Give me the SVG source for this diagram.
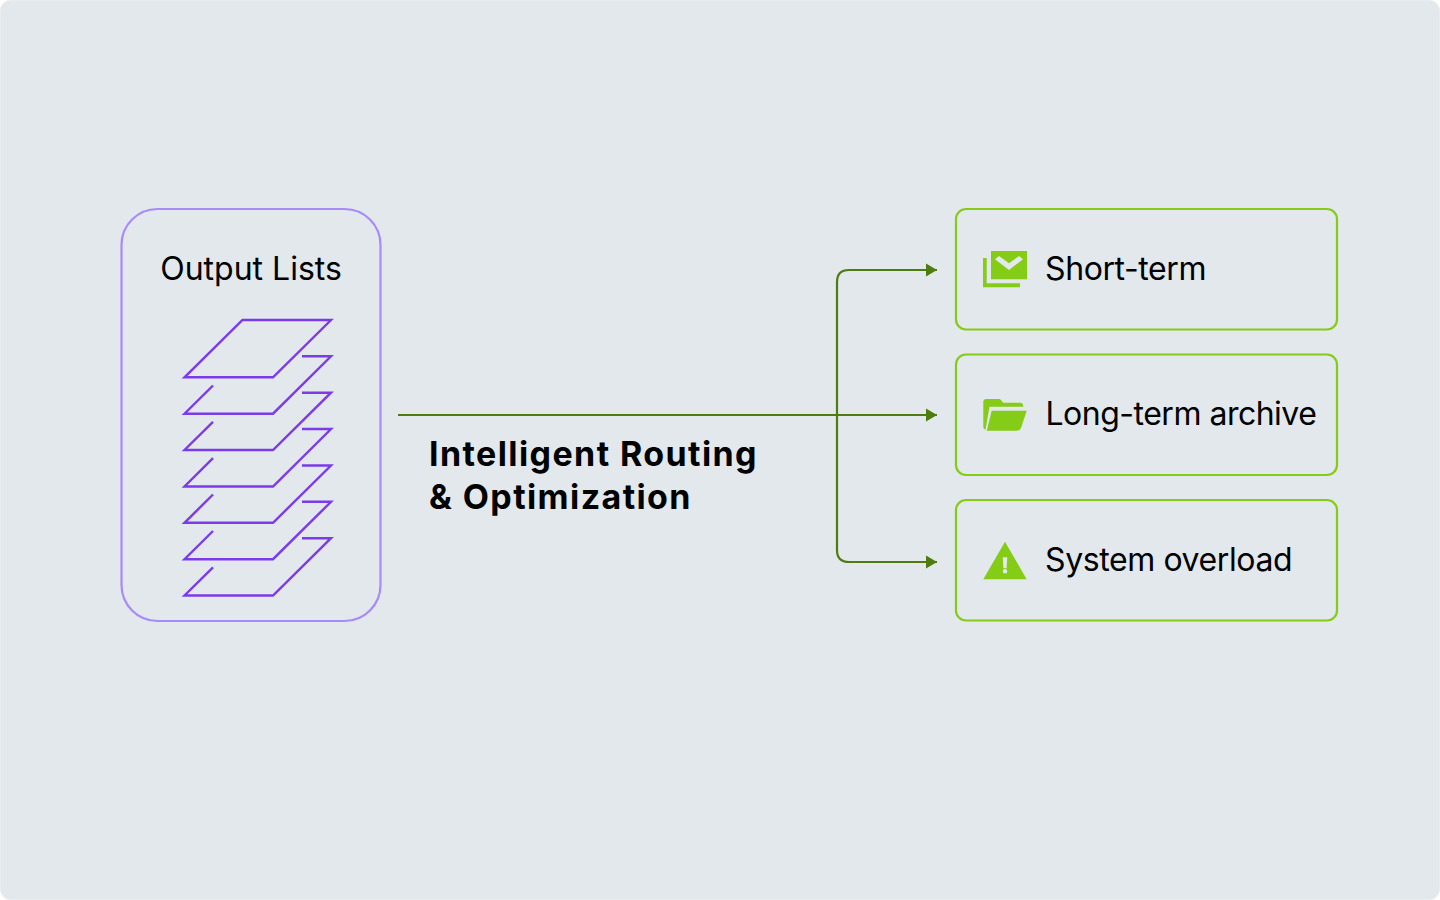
<svg xmlns="http://www.w3.org/2000/svg" width="1440" height="900" viewBox="0 0 1440 900">
<style>
.t{font-family:"Inter","Liberation Sans",sans-serif;font-size:32px;fill:#000}
.n{letter-spacing:-0.4px}
.m{letter-spacing:-0.5px}
.b{font-family:"Inter","Liberation Sans",sans-serif;font-size:34px;font-weight:700;fill:#000;letter-spacing:1.4px}
.box{fill:none;stroke:#84cc16;stroke-width:2.2}
.ly{fill:none;stroke:#7c3aed;stroke-width:2.4}
.c{fill:none;stroke:#4d7c0f;stroke-width:2.2}
.i{fill:#84cc16}
</style>
<defs><marker id="a" markerUnits="userSpaceOnUse" markerWidth="12" markerHeight="14" refX="11" refY="7" orient="auto"><path d="M0 0.500L11 7L0 13.500Z" fill="#4d7c0f"/></marker></defs>
<rect x="0.500" y="0.500" width="1439" height="899" rx="10" fill="#e2e8eb" stroke="#e8edef"/>
<g id="connectors">
<path class="c" d="M398 415H937" marker-end="url(#a)"/>
<path class="c" d="M837 415V282Q837 270 849 270H937" marker-end="url(#a)"/>
<path class="c" d="M837 415V550Q837 562 849 562H937" marker-end="url(#a)"/>
</g>
<g id="output-lists">
<rect x="121.500" y="209" width="259" height="412" rx="36" fill="none" stroke="#a78bfa" stroke-width="2.200"/>
<text class="t" x="251" y="280" text-anchor="middle">Output Lists</text>
<path class="ly" d="M242.500 320H331L273 377.300H184.500Z"/>
<path class="ly" d="M302 356.300H331L273 413.700H184.500L213 385.500"/>
<path class="ly" d="M302 392.700H331L273 450H184.500L213 421.800"/>
<path class="ly" d="M302 429H331L273 486.500H184.500L213 458.200"/>
<path class="ly" d="M302 465.500H331L273 522.800H184.500L213 494.500"/>
<path class="ly" d="M302 501.800H331L273 559.200H184.500L213 531"/>
<path class="ly" d="M302 538.200H331L273 595.500H184.500L213 567.300"/>
</g>
<g id="routing-label">
<text class="b" x="429" y="466">Intelligent Routing</text>
<text class="b" x="429" y="509">&amp; Optimization</text>
</g>
<g id="short-term">
<rect class="box" x="956" y="209" width="381" height="120.500" rx="10"/>
<path class="i" d="M983 258H986.700V283.300H1020V287.300H983Z"/>
<path class="i" fill-rule="evenodd" d="M991 251H1027V279.300H991ZM995 259.300L1009 270L1023 259.300L1019 256L1009 263.300L999 256Z"/>
<text class="t n" x="1045" y="280">Short-term</text>
</g>
<g id="long-term">
<rect class="box" x="956" y="354.500" width="381" height="120.500" rx="10"/>
<path class="i" d="M983.300 402Q983.300 399 986.300 399H1000L1003.300 402.700H1020Q1023.300 402.700 1023.300 406.700H989.500L985.500 429.800Q983.300 429 983.300 427Z"/>
<path class="i" d="M991.700 410.700H1026.700L1021 428Q1020 430.700 1017 430.700H986.800Z"/>
<text class="t m" x="1045.500" y="425">Long-term archive</text>
</g>
<g id="system-overload">
<rect class="box" x="956" y="500" width="381" height="120.500" rx="10"/>
<path class="i" fill-rule="evenodd" d="M1005 541.700L1026.700 579.300H983.300ZM1002.700 557.300H1007.300L1006.600 568.300H1003.400ZM1005 569A2.300 2.300 0 1 0 1005.010 573.600A2.300 2.300 0 1 0 1005 569Z"/>
<text class="t n" x="1045" y="571">System overload</text>
</g>
</svg>
